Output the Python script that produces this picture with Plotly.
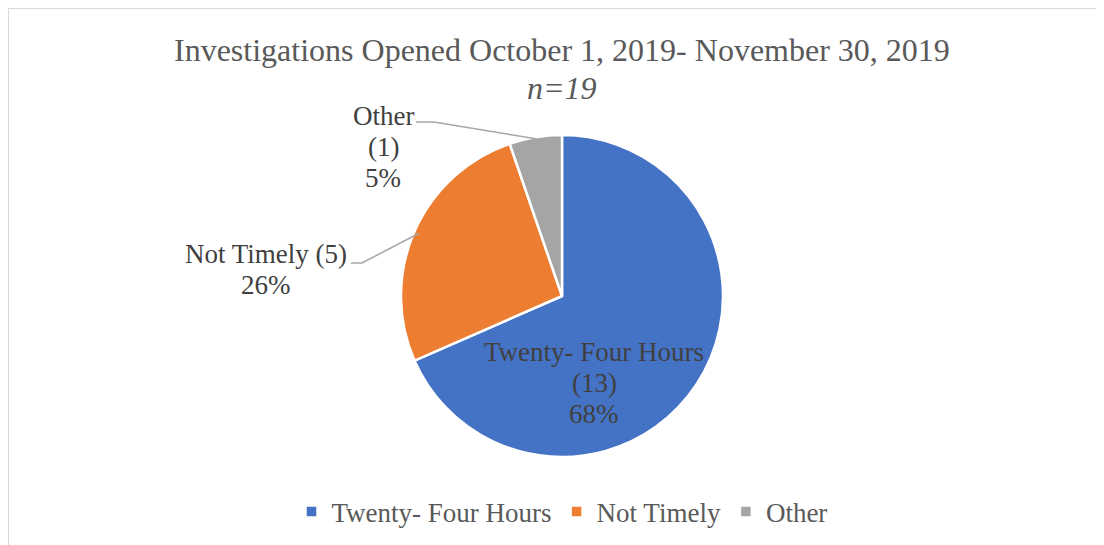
import math
import plotly.graph_objects as go

categories = ["Twenty- Four Hours", "Not Timely", "Other"]
counts = [13, 5, 1]
colors = ["#4472C4", "#ED7D31", "#A5A5A5"]
title_text = "Investigations Opened October 1, 2019- November 30, 2019"
subtitle_text = "n=19"

W, H = 1104, 545
OFF = 8  # page body margin
CX, CY, R = 562, 296, 161  # screen pixel geometry of the pie
FONT = "Liberation Serif, Times New Roman, serif"

def px(x):
    return (x - OFF) / W

def py(y):
    return 1 - (y - OFF) / H

fig = go.Figure()
fig.add_trace(go.Pie(
    labels=categories, values=counts, sort=False, direction="clockwise", rotation=0,
    marker=dict(colors=colors, line=dict(color="white", width=2.5)),
    textinfo="none", hoverinfo="label+value+percent",
    domain=dict(x=[px(CX - R), px(CX + R)], y=[py(CY + R), py(CY - R)]),
))

total = sum(counts)
pcts = [round(100 * c / total) for c in counts]

mids = []
cum = 0
for c in counts:
    mids.append((cum + c / 2) / total * 2 * math.pi)
    cum += c

def edge(i, f=1.0):
    a = mids[i]
    return CX + f * R * math.sin(a), CY - f * R * math.cos(a)

anns = []
shapes = []
shapes.append(dict(type="path", xref="paper", yref="paper",
                   path=f"M {px(8)},0 L {px(8)},{py(8)} L 1.1,{py(8)}",
                   line=dict(color="#D9D9D9", width=2)))

def text_at(x, y, txt, font):
    anns.append(dict(x=px(x), y=py(y), xref="paper", yref="paper", showarrow=False,
                     xanchor="center", yanchor="middle", text=txt, font=font))

title_font = dict(family=FONT, size=32, color="#595959")
text_at(562, 50, title_text, title_font)
text_at(562, 88, f"<i>{subtitle_text}</i>", title_font)

lab_font = dict(family=FONT, size=27, color="#404040")
SP = 31
# Largest slice inside
for k, t in enumerate([categories[0], f"({counts[0]})", f"{pcts[0]}%"]):
    text_at(594, 352 + k * SP, t, lab_font)
# Not Timely outside
for k, t in enumerate([f"{categories[1]} ({counts[1]})", f"{pcts[1]}%"]):
    text_at(266, 254 + k * SP, t, lab_font)
# Other outside
for k, t in enumerate([categories[2], f"({counts[2]})", f"{pcts[2]}%"]):
    text_at(383, 116 + k * SP, t, lab_font)

ex, ey = edge(1, 0.97)
shapes.append(dict(type="path", xref="paper", yref="paper",
                   path=f"M {px(351)},{py(263)} L {px(362)},{py(263)} L {px(ex)},{py(ey)}",
                   line=dict(color="#A6A6A6", width=1.5)))
ex, ey = edge(2, 0.99)
shapes.append(dict(type="path", xref="paper", yref="paper",
                   path=f"M {px(416)},{py(122)} L {px(434)},{py(122)} L {px(ex)},{py(ey)}",
                   line=dict(color="#A6A6A6", width=1.5)))

fig.update_layout(
    width=W, height=H, margin=dict(l=0, r=0, t=0, b=0),
    paper_bgcolor="white", plot_bgcolor="white",
    annotations=anns, shapes=shapes,
    showlegend=True,
    legend=dict(orientation="h", x=px(562), xanchor="center", y=py(512), yanchor="middle",
                font=dict(family=FONT, size=27, color="#595959"),
                itemwidth=30, traceorder="normal"),
)
fig.write_html("out.html")
